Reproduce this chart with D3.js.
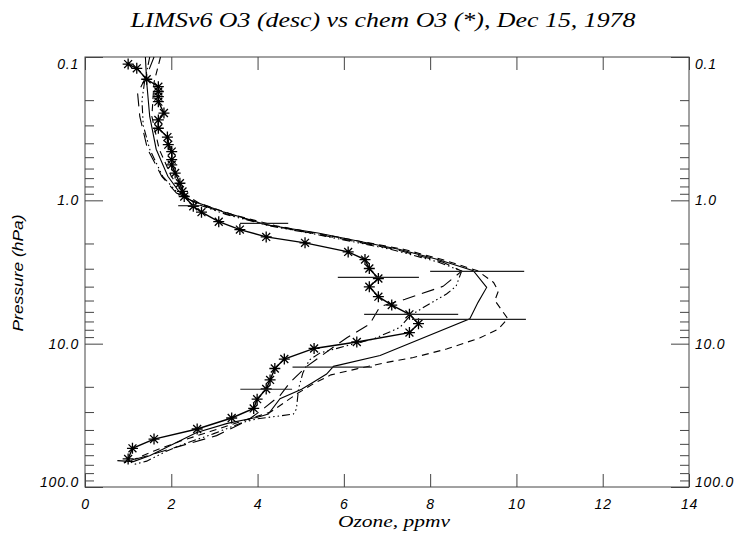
<!DOCTYPE html>
<html>
<head>
<meta charset="utf-8">
<script src="https://cdn.jsdelivr.net/npm/d3@7"></script>
<style>
  body { margin: 0; background: #fff; }
  text { fill: #000; }
</style>
</head>
<body>
<svg id="chart" width="741" height="533"></svg>
<script>
// x ticks and pressure ticks
const ozoneTicks = [0, 2, 4, 6, 8, 10, 12, 14];
const pressTicks = [0.1, 1, 10, 100];
const pressLabels = ["0.1", "1.0", "10.0", "100.0"];

// chem O3 (asterisks)
const chemP  = [0.112,0.120,0.143,0.161,0.174,0.189,0.205,0.246,0.275,0.314,0.362,0.409,0.457,0.52,0.565,0.645,0.76,0.866,0.94,1.10,1.21,1.41,1.60,1.80,1.98,2.29,2.59,2.99,3.51,4.01,4.70,5.38,6.24,7.25,8.37,9.73,10.8,12.8,14.9,17.9,20.7,24.4,28.3,33.0,39.4,46.3,53.7,63.7];
const chemO3 = [1.00,1.20,1.43,1.70,1.70,1.70,1.70,1.83,1.70,1.70,1.91,1.93,2.01,2.01,2.01,2.09,2.20,2.26,2.30,2.51,2.70,3.10,3.59,4.20,5.10,6.10,6.49,6.59,6.80,6.59,6.80,7.11,7.52,7.73,7.52,6.30,5.31,4.62,4.40,4.29,4.20,3.99,3.91,3.40,2.60,1.60,1.10,1.00];

// LIMS descending profiles
const solidP  = [0.1,0.15,0.26,0.44,0.68,0.87,1.0,1.2,1.48,1.69,2.2,2.6,3.1,4.05,5.15,6.7,12.1,14.4,16.3,18.6,20.8,24.2,31,32.7,36,41.6,48.8,60.4,66.5,65.5];
const solidO3 = [1.40,1.43,1.50,1.65,1.92,2.18,2.45,3.2,4.2,5.4,7.3,8.2,9.0,9.31,9.11,8.92,6.84,5.76,5.60,5.29,5.02,4.52,4.25,3.98,3.3,2.59,2.13,1.51,1.12,0.75];

const dashP  = [0.1,0.15,0.26,0.44,0.68,0.9,1.05,1.25,1.5,1.75,2.2,2.6,3.1,3.74,4.3,5.0,6.7,7.9,9.1,10.9,12.5,13.5,15,16.5,19,22,26,30,35,41,48,56,63,68];
const dashO3 = [1.75,1.6,1.55,1.72,2.0,2.3,2.65,3.4,4.4,5.6,7.4,8.3,9.1,9.47,9.58,9.5,9.8,9.58,9.16,8.38,7.61,7.0,6.3,5.7,5.3,4.95,4.6,4.3,3.6,2.9,2.2,1.6,1.2,0.9];

const longP  = [0.1,0.13,0.18,0.26,0.44,0.68,0.89,1.05,1.25,1.5,1.75,2.2,2.7,3.12,3.98,4.9,5.5,7.3,9.1,11.2,14.4,18.7,23,29,34.6,43.8,52.7,60,66];
const longO3 = [1.6,1.45,1.22,1.27,1.45,1.78,2.12,2.6,3.3,4.3,5.5,7.2,8.3,8.73,8.3,7.42,6.84,6.6,6.07,5.64,5.14,4.75,4.52,4.1,3.75,3.05,2.12,1.5,1.0];

const dddP  = [0.1,0.15,0.2,0.3,0.44,0.68,0.89,1.05,1.25,1.5,1.75,2.2,2.7,3.12,3.98,4.5,5.6,6.4,7.7,9.3,9.9,11.6,13,16,20.6,28.6,31,33.5,35.4,42.6,50,56,66,70];
const dddO3 = [1.5,1.38,1.32,1.35,1.5,1.8,2.15,2.55,3.25,4.25,5.45,7.1,8.2,8.73,8.6,8.38,7.84,7.53,7.3,6.68,6.3,5.45,5.2,5.05,4.95,4.9,4.83,3.98,3.66,2.97,2.3,1.9,1.43,1.1];

// error bars (horizontal)
const chemBarP  = [1.09, 3.45, 6.24, 20.8];
const chemBarO3 = [2.41, 6.80, 7.56, 4.20];
const chemBarErr = [0.25, 0.94, 1.09, 0.60];
const limsBarP  = [1.45, 3.13, 6.77, 14.6];
const limsBarO3 = [4.15, 9.09, 8.90, 5.73];
const limsBarErr = [0.56, 1.09, 1.32, 0.92];

const svg = d3.select("#chart");
const plotLeft = 85, plotRight = 689, plotTop = 57, plotBottom = 487;

const x = d3.scaleLinear().domain([0, 14]).range([plotLeft, plotRight]);
const y = d3.scaleLog().domain([0.1, 100]).range([plotTop, plotBottom]);

const minor = [];
[0.1, 1, 10].forEach(d => { for (let k = 2; k <= 9; k++) minor.push(d * k); });

const axisColor = "#444";
const tickFont = "'Liberation Sans', Arial, sans-serif";
const serifFont = "'Liberation Serif', 'DejaVu Serif', serif";

// box
svg.append("rect")
  .attr("x", plotLeft).attr("y", plotTop)
  .attr("width", plotRight - plotLeft).attr("height", plotBottom - plotTop)
  .attr("fill", "none").attr("stroke", axisColor).attr("stroke-width", 1);

function styleAxis(g) {
  g.select(".domain").remove();
  g.selectAll(".tick line").attr("stroke", axisColor);
  g.selectAll(".tick text")
    .attr("font-family", tickFont)
    .attr("font-style", "italic")
    .attr("font-size", 14)
    .attr("letter-spacing", 0.8)
    .attr("fill", "#000");
}

// bottom / top x axes
svg.append("g").attr("transform", `translate(0,${plotBottom})`)
  .call(d3.axisBottom(x).tickValues(ozoneTicks).tickSize(-13).tickPadding(12).tickFormat(d3.format("d")))
  .call(styleAxis);
svg.append("g").attr("transform", `translate(0,${plotTop})`)
  .call(d3.axisTop(x).tickValues(ozoneTicks).tickSize(-13).tickFormat(""))
  .call(styleAxis);

// left / right y axes
const fmtP = d => pressLabels[pressTicks.indexOf(d)];
const edgeShift = d => d === 0.1 ? 7 : (d === 100 ? -4.5 : 0);

svg.append("g").attr("transform", `translate(${plotLeft},0)`)
  .call(d3.axisLeft(y).tickValues(pressTicks).tickSize(-18).tickPadding(6).tickFormat(fmtP))
  .call(styleAxis)
  .selectAll(".tick text").attr("y", edgeShift);
svg.append("g").attr("transform", `translate(${plotLeft},0)`)
  .call(d3.axisLeft(y).tickValues(minor).tickSize(-9).tickFormat(""))
  .call(styleAxis);
svg.append("g").attr("transform", `translate(${plotRight},0)`)
  .call(d3.axisRight(y).tickValues(pressTicks).tickSize(-18).tickPadding(6).tickFormat(fmtP))
  .call(styleAxis)
  .selectAll(".tick text").attr("y", edgeShift);
svg.append("g").attr("transform", `translate(${plotRight},0)`)
  .call(d3.axisRight(y).tickValues(minor).tickSize(-9).tickFormat(""))
  .call(styleAxis);

// title and axis titles
svg.append("text")
  .attr("x", 383).attr("y", 27)
  .attr("text-anchor", "middle")
  .attr("font-family", serifFont)
  .attr("font-style", "italic")
  .attr("font-size", 20)
  .attr("textLength", 505).attr("lengthAdjust", "spacingAndGlyphs")
  .text("LIMSv6 O3 (desc) vs chem O3 (*), Dec 15, 1978");

svg.append("text")
  .attr("x", 394).attr("y", 527)
  .attr("text-anchor", "middle")
  .attr("font-family", serifFont)
  .attr("font-style", "italic")
  .attr("font-size", 16)
  .attr("textLength", 112).attr("lengthAdjust", "spacingAndGlyphs")
  .text("Ozone, ppmv");

svg.append("text")
  .attr("transform", "translate(23,273) rotate(-90)")
  .attr("text-anchor", "middle")
  .attr("font-family", tickFont)
  .attr("font-style", "italic")
  .attr("font-size", 14)
  .attr("textLength", 117).attr("lengthAdjust", "spacingAndGlyphs")
  .text("Pressure (hPa)");

// profiles
const line = d3.line().x(d => x(d[1])).y(d => y(d[0]));
const zipPV = (p, v) => p.map((d, i) => [d, v[i]]);

const profiles = [
  { pts: zipPV(solidP, solidO3), dash: null },
  { pts: zipPV(dashP, dashO3), dash: "7,5" },
  { pts: zipPV(longP, longO3), dash: "13,7" },
  { pts: zipPV(dddP, dddO3), dash: "8,3,1.5,3,1.5,3,1.5,3" },
];

const plot = svg.append("g");
plot.selectAll("path.lims")
  .data(profiles)
  .join("path")
  .attr("class", "lims")
  .attr("d", d => line(d.pts))
  .attr("fill", "none")
  .attr("stroke", "#000")
  .attr("stroke-width", 1.1)
  .attr("stroke-dasharray", d => d.dash);

const chem = zipPV(chemP, chemO3);
plot.append("path")
  .attr("d", line(chem))
  .attr("fill", "none")
  .attr("stroke", "#000")
  .attr("stroke-width", 1.4);

// asterisks
const r = 5.5;
const star = `M${-r},0L${r},0M0,${-r}L0,${r}M${-r * 0.72},${-r * 0.72}L${r * 0.72},${r * 0.72}M${-r * 0.72},${r * 0.72}L${r * 0.72},${-r * 0.72}`;
plot.selectAll("path.star")
  .data(chem)
  .join("path")
  .attr("class", "star")
  .attr("transform", d => `translate(${x(d[1])},${y(d[0])})`)
  .attr("d", star)
  .attr("stroke", "#000")
  .attr("stroke-width", 1.3);

// error bars
const bars = zipPV(chemBarP, chemBarO3).map((d, i) => [d[0], d[1], chemBarErr[i]])
  .concat(zipPV(limsBarP, limsBarO3).map((d, i) => [d[0], d[1], limsBarErr[i]]));
plot.selectAll("line.bar")
  .data(bars)
  .join("line")
  .attr("class", "bar")
  .attr("x1", d => x(d[1] - d[2]))
  .attr("x2", d => x(d[1] + d[2]))
  .attr("y1", d => y(d[0]))
  .attr("y2", d => y(d[0]))
  .attr("stroke", "#222")
  .attr("stroke-width", 1.2);
</script>
</body>
</html>
